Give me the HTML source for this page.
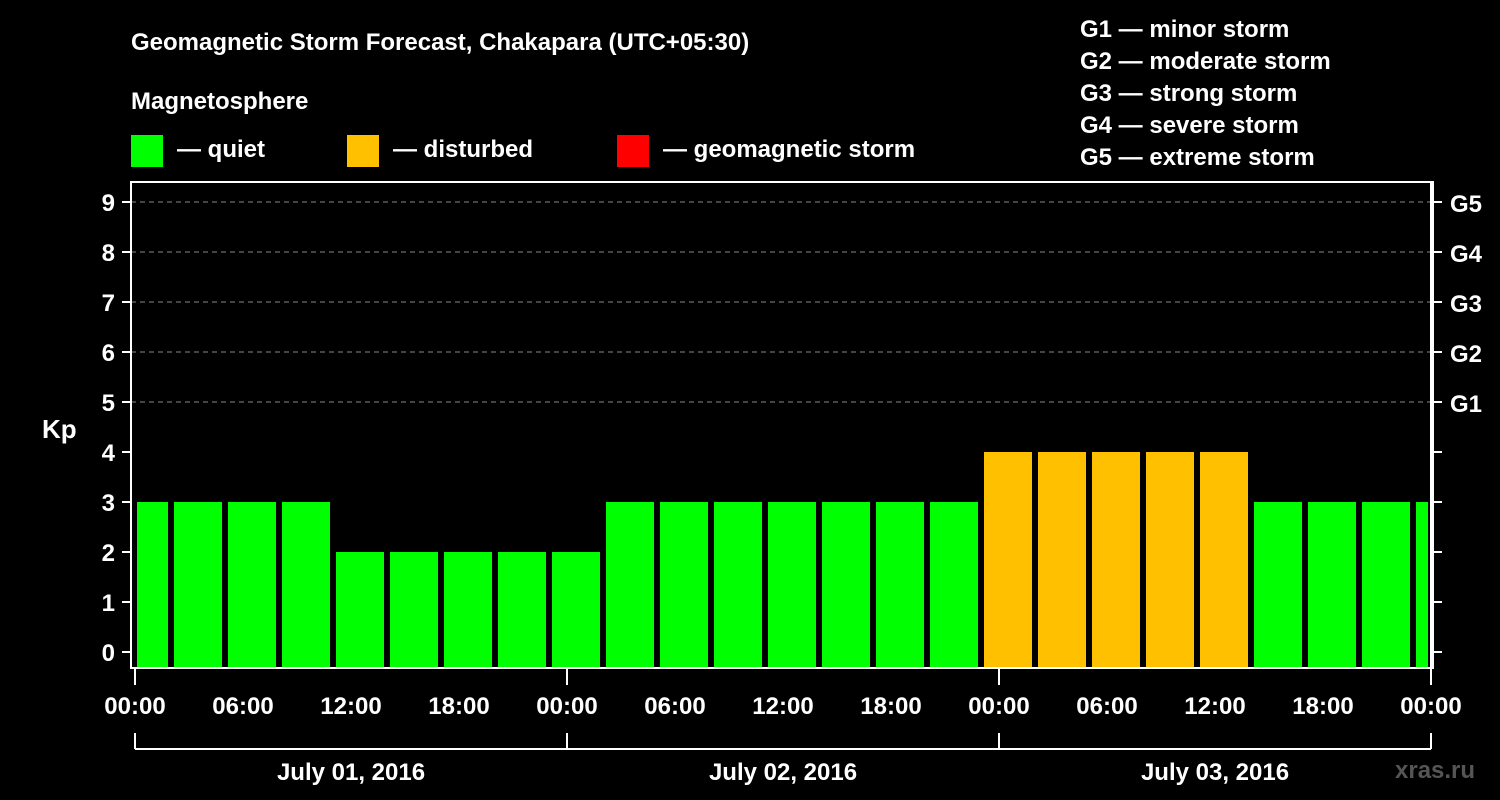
<!DOCTYPE html>
<html><head><meta charset="utf-8"><style>
html,body{margin:0;padding:0;background:#000;width:1500px;height:800px;overflow:hidden}
svg text{font-family:"Liberation Sans",Arial,sans-serif;font-weight:bold;fill:#fff}
</style></head><body>
<svg id="chart" width="1500" height="800" xmlns="http://www.w3.org/2000/svg">
<text x="131" y="50" font-size="24">Geomagnetic Storm Forecast, Chakapara (UTC+05:30)</text>
<text x="131" y="109" font-size="24">Magnetosphere</text>
<rect x="131" y="135" width="32" height="32" fill="#00ff00"/>
<text x="177" y="157" font-size="24">— quiet</text>
<rect x="347" y="135" width="32" height="32" fill="#ffc000"/>
<text x="393" y="157" font-size="24">— disturbed</text>
<rect x="617" y="135" width="32" height="32" fill="#ff0000"/>
<text x="663" y="157" font-size="24">— geomagnetic storm</text>
<g font-size="24">
<text x="1080" y="37">G1 — minor storm</text>
<text x="1080" y="69">G2 — moderate storm</text>
<text x="1080" y="101">G3 — strong storm</text>
<text x="1080" y="133">G4 — severe storm</text>
<text x="1080" y="165">G5 — extreme storm</text>
</g>
<text x="42" y="438" font-size="26">Kp</text>
<text x="1395" y="778" font-size="24" fill="#555" style="fill:#555">xras.ru</text>
<g id="grid"></g><g id="bars"></g><g id="axes"></g>
</svg>
<script>
const kpValues=[3,3,3,3,2,2,2,2,2,3,3,3,3,3,3,3,4,4,4,4,4,3,3,3,3];
const slotStartHours=[-1,2,5,8,11,14,17,20,23,26,29,32,35,38,41,44,47,50,53,56,59,62,65,68,71];
const yTicks=[0,1,2,3,4,5,6,7,8,9];
const gLabels=["G1","G2","G3","G4","G5"];
const xTickLabels=["00:00","06:00","12:00","18:00","00:00","06:00","12:00","18:00","00:00","06:00","12:00","18:00","00:00"];
const dayLabels=["July 01, 2016","July 02, 2016","July 03, 2016"];
const NS="http://www.w3.org/2000/svg";
const L=131,R=1433,T=182,B=668,X0=135,PXH=18;
const xs=h=>X0+h*PXH, ys=v=>652-v*50;
function mk(t,a,p){const e=document.createElementNS(NS,t);for(const k in a)e.setAttribute(k,a[k]);p.appendChild(e);return e;}
const grid=document.getElementById('grid'),bars=document.getElementById('bars'),axes=document.getElementById('axes');
for(let v=5;v<=9;v++){const l=mk('line',{x1:L,x2:R,y1:ys(v),y2:ys(v),stroke:'#888','stroke-dasharray':'5,4','stroke-width':1},grid);

}
kpValues.forEach((v,i)=>{let x1=xs(slotStartHours[i])+3,x2=xs(slotStartHours[i]+3)-3;x1=Math.max(x1,137);x2=Math.min(x2,1428);
const c=v>=5?'#ff0000':(v>=4?'#ffc000':'#00ff00');
const r=mk('rect',{x:x1,y:ys(v),width:x2-x1,height:ys(0)-ys(v)+16,fill:c},bars);

});
mk('rect',{x:L,y:T,width:R-L,height:B-T,fill:'none',stroke:'#fff','stroke-width':2},axes);
[4,8].forEach(k=>{const l=mk('line',{x1:xs(k*6*3),x2:xs(k*6*3),y1:T,y2:B,stroke:'#fff','stroke-width':2},axes);

});
yTicks.forEach(v=>{mk('line',{x1:L-9,x2:L,y1:ys(v),y2:ys(v),stroke:'#fff','stroke-width':2},axes);
mk('line',{x1:R,x2:R+9,y1:ys(v),y2:ys(v),stroke:'#fff','stroke-width':2},axes);
const t=mk('text',{x:L-16,y:ys(v)+9,'text-anchor':'end','font-size':24},axes);t.textContent=v;

});
gLabels.forEach((g,i)=>{const t=mk('text',{x:1450,y:ys(5+i)+10,'font-size':24},axes);t.textContent=g;

});
xTickLabels.forEach((s,i)=>{const x=xs(i*6);
if(i%4==0)mk('line',{x1:x,x2:x,y1:B,y2:685,stroke:'#fff','stroke-width':2},axes);
const t=mk('text',{x:x,y:714,'text-anchor':'middle','font-size':24},axes);t.textContent=s;

});
mk('line',{x1:xs(0),x2:xs(72),y1:749,y2:749,stroke:'#fff','stroke-width':2},axes);
[0,24,48,72].forEach(h=>mk('line',{x1:xs(h),x2:xs(h),y1:733,y2:749,stroke:'#fff','stroke-width':2},axes));
dayLabels.forEach((d,i)=>{const t=mk('text',{x:xs(i*24+12),y:780,'text-anchor':'middle','font-size':24},axes);t.textContent=d;

});
</script>
</body></html>
